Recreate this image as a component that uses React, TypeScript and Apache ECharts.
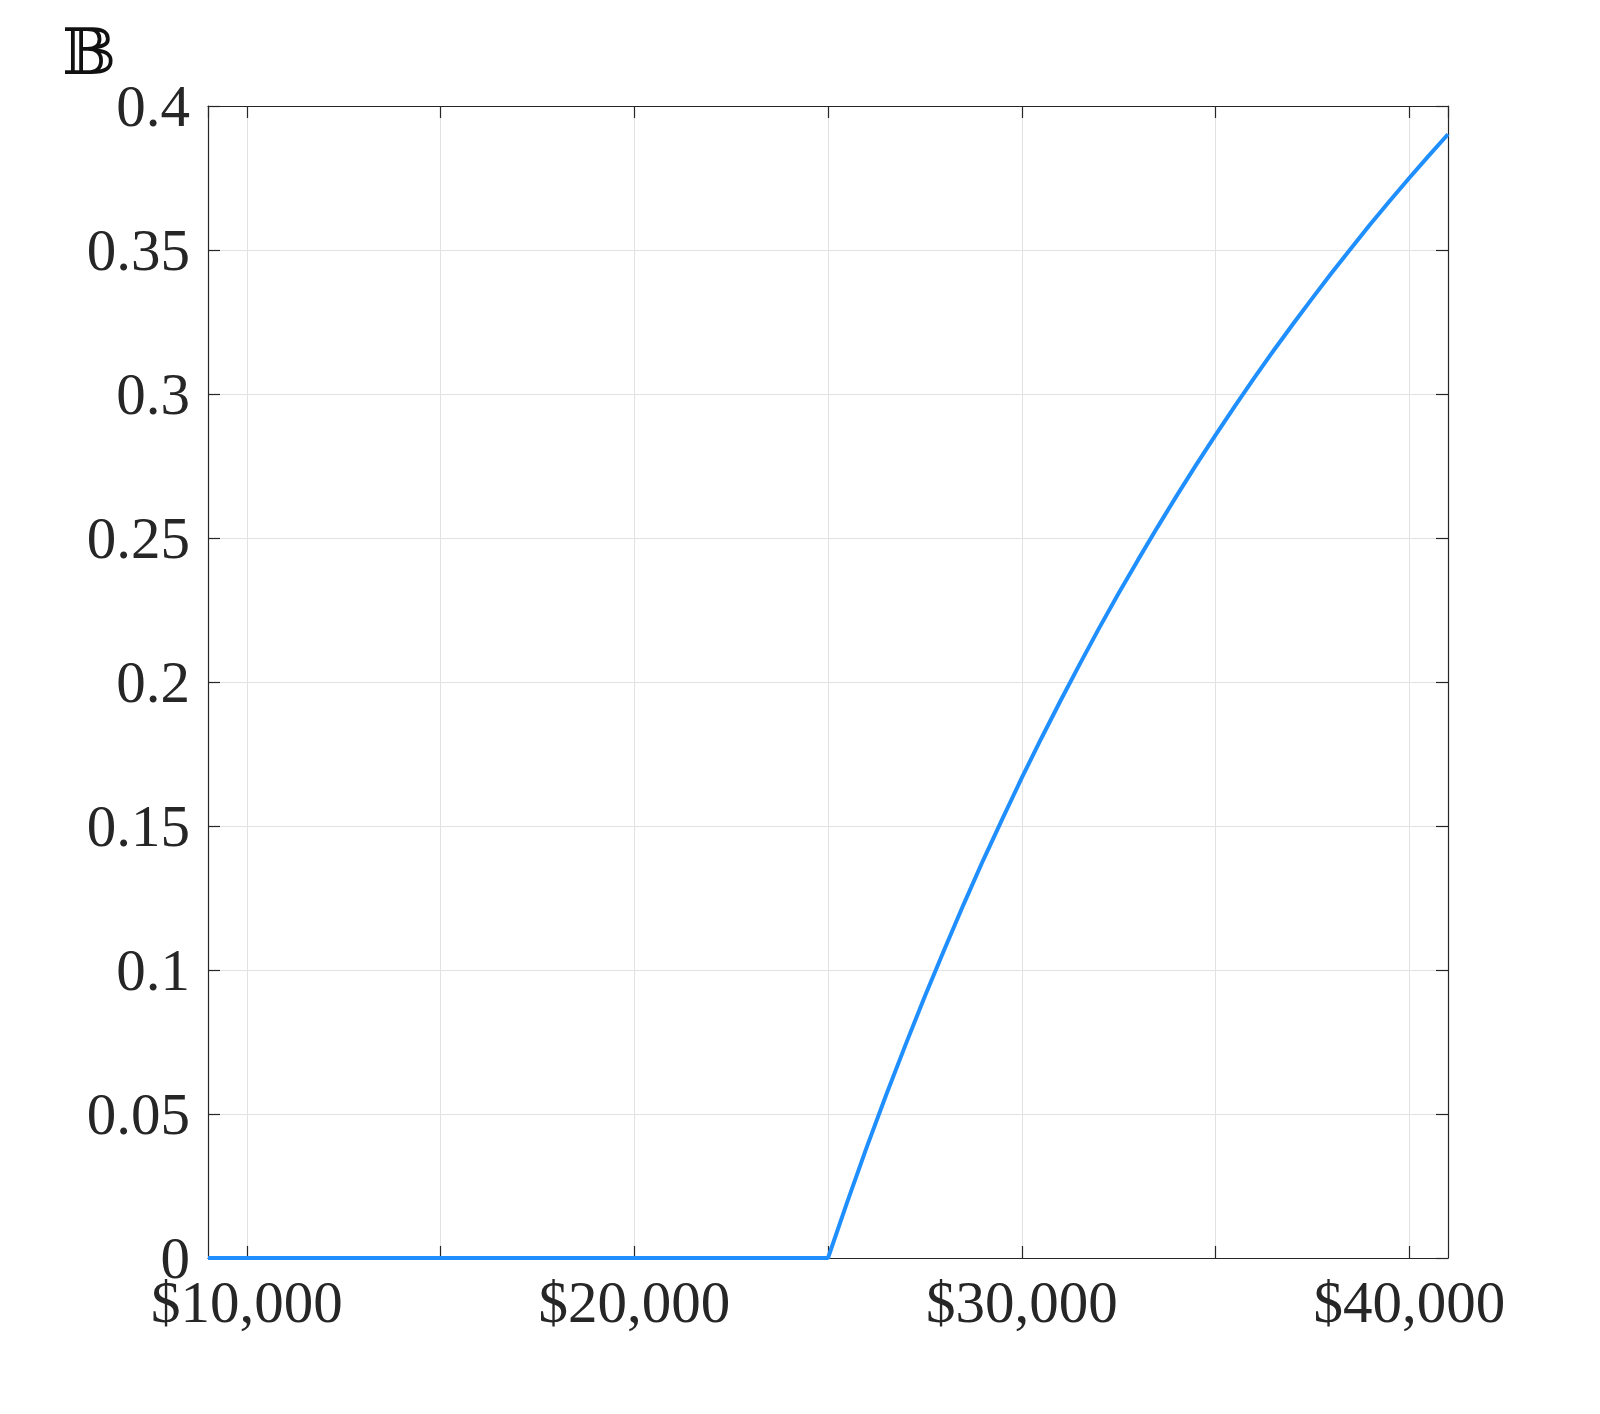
import React, { useEffect, useRef } from "react";
import * as echarts from "echarts";

const incomes = [
  9000, 10000, 11000, 12000, 13000, 14000, 15000, 16000, 17000, 18000, 19000,
  20000, 21000, 22000, 23000, 24000, 25000, 25500, 26000, 26500, 27000, 27500,
  28000, 28500, 29000, 29500, 30000, 30500, 31000, 31500, 32000, 32500, 33000,
  33500, 34000, 34500, 35000, 35500, 36000, 36500, 37000, 37500, 38000, 38500,
  39000, 39500, 40000, 40500, 41000,
];
const values = [
  0, 0, 0, 0, 0, 0, 0, 0, 0, 0, 0,
  0, 0, 0, 0, 0, 0, 0.0196, 0.0385, 0.0566, 0.074, 0.0909,
  0.107, 0.1228, 0.138, 0.1525, 0.1667, 0.1803, 0.1935, 0.2063, 0.2188, 0.2308, 0.2424,
  0.2537, 0.2647, 0.2754, 0.2857, 0.2958, 0.3056, 0.3151, 0.3243, 0.3333, 0.3421, 0.3506,
  0.359, 0.3671, 0.375, 0.3827, 0.3902,
];
const labeledTicks = [10000, 20000, 30000, 40000];
const yTitle = "𝔹";

const FONT = "'Liberation Serif', 'DejaVu Serif', serif";
const TEXT = "#262626";

export default function App() {
  const ref = useRef<HTMLDivElement>(null);
  useEffect(() => {
    if (!ref.current) return;
    const chart = echarts.init(ref.current, undefined, { renderer: "svg" });
    const fmtX = (v: number) =>
      labeledTicks.includes(v) ? "$" + v.toLocaleString("en-US") : "";
    const axisLineStyle = { color: TEXT, width: 1.2 };
    const tick = { show: true, inside: true, length: 12, lineStyle: axisLineStyle };
    chart.setOption({
      animation: false,
      backgroundColor: "#ffffff",
      grid: { left: 208, right: 152, top: 106, bottom: 156, containLabel: false },
      graphic: [
        {
          type: "text",
          left: 62,
          top: 20,
          style: { text: yTitle, fontSize: 64, fontFamily: "'DejaVu Serif', serif", fill: "#111" },
        },
      ],
      xAxis: [
        {
          type: "value",
          min: 9000,
          max: 41000,
          splitNumber: 6,
          position: "bottom",
          axisLine: { show: true, onZero: false, lineStyle: axisLineStyle },
          axisTick: tick,
          axisLabel: {
            show: true,
            showMinLabel: false,
            showMaxLabel: false,
            formatter: fmtX,
            fontSize: 59,
            fontFamily: FONT,
            color: TEXT,
            margin: 14,
          },
          splitLine: { show: true, lineStyle: { color: "#e2e2e2", width: 1 } },
        },
        {
          type: "value",
          min: 9000,
          max: 41000,
          splitNumber: 6,
          position: "top",
          axisLine: { show: true, onZero: false, lineStyle: axisLineStyle },
          axisTick: tick,
          axisLabel: { show: false },
          splitLine: { show: false },
        },
      ],
      yAxis: [
        {
          type: "value",
          min: 0,
          max: 0.4,
          interval: 0.05,
          position: "left",
          axisLine: { show: true, onZero: false, lineStyle: axisLineStyle },
          axisTick: tick,
          axisLabel: { fontSize: 59, fontFamily: FONT, color: TEXT, margin: 18 },
          splitLine: { show: true, lineStyle: { color: "#e2e2e2", width: 1 } },
        },
        {
          type: "value",
          min: 0,
          max: 0.4,
          interval: 0.05,
          position: "right",
          axisLine: { show: true, onZero: false, lineStyle: axisLineStyle },
          axisTick: tick,
          axisLabel: { show: false },
          splitLine: { show: false },
        },
      ],
      series: [
        {
          type: "line",
          xAxisIndex: 0,
          yAxisIndex: 0,
          data: incomes.map((x, i) => [x, values[i]]),
          showSymbol: false,
          symbol: "none",
          lineStyle: { color: "#1f8fff", width: 4 },
          clip: false,
          z: 5,
        },
      ],
    });
    return () => chart.dispose();
  }, []);
  return (
    <div
      ref={ref}
      style={{ position: "fixed", left: 0, top: 0, width: 1600, height: 1414, background: "#fff" }}
    />
  );
}
